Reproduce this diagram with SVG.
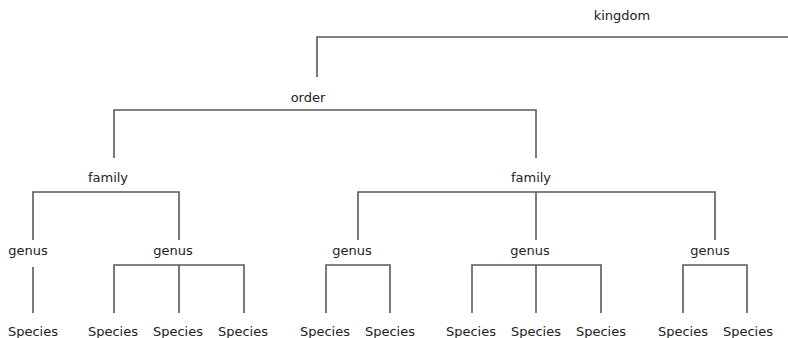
<svg xmlns="http://www.w3.org/2000/svg" width="788" height="338" viewBox="0 0 788 338">
<style>
text{font-family:"DejaVu Sans",Verdana,sans-serif;font-size:13px;fill:#222;text-anchor:middle}
.c path{fill:none;stroke:#5a5a5a;stroke-width:1.6}
</style>
<rect width="788" height="338" fill="#fff"/>
<g class="c" id="connectors">
<path d="M317,77 V37 H788"/>
<path d="M114,158 V110 H536 V158"/>
<path d="M33,240 V192 H179 V240"/>
<path d="M358,240 V192 H715 V240 M536,192 V240"/>
<path d="M33,267 V313"/>
<path d="M114,313 V265 H244 V313 M179,265 V313"/>
<path d="M326,313 V265 H390 V313"/>
<path d="M472,313 V265 H601 V313 M536,265 V313"/>
<path d="M683,313 V265 H747 V313"/>
</g>
<g id="kingdom"><text x="622" y="20">kingdom</text></g>
<g id="order"><text x="308" y="102">order</text></g>
<g id="family1"><text x="108" y="182">family</text></g>
<g id="family2"><text x="531" y="182">family</text></g>
<g id="genus1"><text x="28" y="255">genus</text></g>
<g id="genus2"><text x="173" y="255">genus</text></g>
<g id="genus3"><text x="352" y="255">genus</text></g>
<g id="genus4"><text x="530" y="255">genus</text></g>
<g id="genus5"><text x="710" y="255">genus</text></g>
<g id="species1"><text x="33" y="336">Species</text></g>
<g id="species2"><text x="113" y="336">Species</text></g>
<g id="species3"><text x="178" y="336">Species</text></g>
<g id="species4"><text x="243" y="336">Species</text></g>
<g id="species5"><text x="325" y="336">Species</text></g>
<g id="species6"><text x="390" y="336">Species</text></g>
<g id="species7"><text x="471" y="336">Species</text></g>
<g id="species8"><text x="536" y="336">Species</text></g>
<g id="species9"><text x="601" y="336">Species</text></g>
<g id="species10"><text x="683" y="336">Species</text></g>
<g id="species11"><text x="748" y="336">Species</text></g>
</svg>
